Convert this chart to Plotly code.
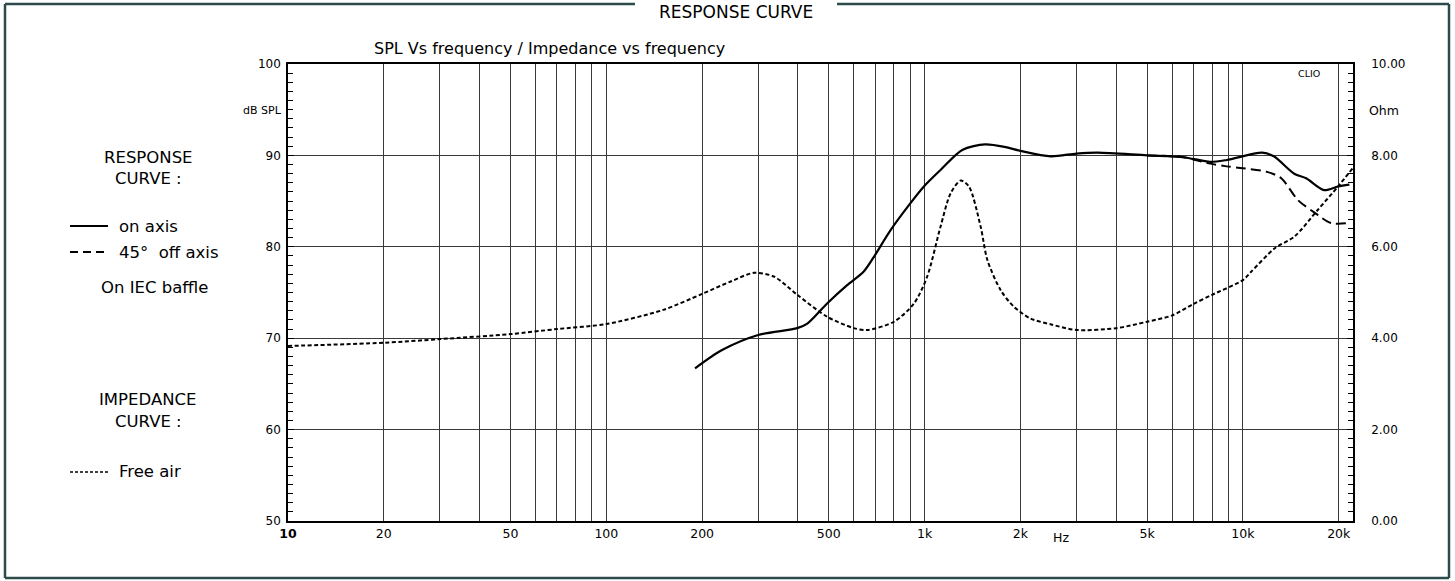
import plotly.graph_objects as go

# ---------------- data ----------------
spl_on_freq = [190, 231, 300, 398, 428, 494, 571, 644, 693, 781, 904, 995, 1122, 1313, 1550,
               1800, 2000, 2490, 3000, 3500, 5000, 6500, 7900, 8900, 11500, 12500, 14500,
               15800, 18000, 19900, 21600]
spl_on_db = [66.7, 68.7, 70.35, 71.1, 71.6, 73.8, 75.8, 77.3, 78.9, 81.8, 84.8, 86.6, 88.4, 90.6, 91.2,
             90.9, 90.5, 89.9, 90.2, 90.3, 90.0, 89.8, 89.3, 89.5, 90.3, 89.9, 88.0,
             87.5, 86.2, 86.6, 86.8]

spl_off_freq = [5000, 6500, 7900, 8900, 10000, 11900, 13200, 14900, 16700, 18900, 21600]
spl_off_db = [90.0, 89.8, 89.1, 88.8, 88.6, 88.2, 87.5, 85.1, 83.8, 82.6, 82.6]

imp_freq = [10, 20, 30, 50, 70, 100, 151, 200, 246, 291, 336, 398, 494, 600, 661, 801, 926,
            1019, 1122, 1207, 1298, 1378, 1500, 1575, 1734, 1907, 2153, 2500, 3000, 4000,
            5000, 6000, 7000, 8000, 10000, 10600, 12600, 14500, 17200, 19900, 22180]
imp_ohm = [3.83, 3.9, 3.98, 4.09, 4.2, 4.31, 4.62, 4.97, 5.24, 5.43, 5.35, 4.95, 4.47, 4.22, 4.18,
           4.36, 4.76, 5.35, 6.44, 7.17, 7.45, 7.32, 6.44, 5.71, 5.05, 4.69, 4.43, 4.3, 4.18,
           4.22, 4.36, 4.5, 4.75, 4.95, 5.27, 5.45, 5.97, 6.22, 6.81, 7.32, 7.73]

grid_freqs = [10, 20, 30, 40, 50, 60, 70, 80, 90, 100, 200, 300, 400, 500, 600, 700, 800, 900,
              1000, 2000, 3000, 4000, 5000, 6000, 7000, 8000, 9000, 10000, 20000]
labelled = {10: "<b>10</b>", 20: "20", 50: "50", 100: "100", 200: "200", 500: "500",
            1000: "1k", 2000: "2k", 5000: "5k", 10000: "10k", 20000: "20k"}
x_ticktext = [labelled.get(f, "") for f in grid_freqs]

spl_ticks = [50, 60, 70, 80, 90, 100]
ohm_ticks = [0, 2, 4, 6, 8, 10]
ohm_ticktext = ["%.2f" % v for v in ohm_ticks]

# ---------------- layout helpers ----------------
W, H = 1455, 581
L, R, T, B = 288, 1353, 64, 521


def px(x):
    return (x - L) / (R - L)


def py(y):
    return (B - y) / (B - T)


FONT = "DejaVu Sans, Liberation Sans, Arial, sans-serif"
fig = go.Figure()

fig.add_trace(go.Scatter(x=imp_freq, y=imp_ohm, yaxis="y2", mode="lines",
                         line=dict(color="black", width=2, dash="4px,2.5px", shape="spline", smoothing=0.8),
                         name="Free air", hoverinfo="x+y"))
fig.add_trace(go.Scatter(x=spl_off_freq, y=spl_off_db, mode="lines",
                         line=dict(color="black", width=2, dash="10px,5px", shape="spline", smoothing=0.8),
                         name="45° off axis"))
fig.add_trace(go.Scatter(x=spl_on_freq, y=spl_on_db, mode="lines",
                         line=dict(color="black", width=2.2, shape="spline", smoothing=0.8),
                         name="on axis"))

fig.update_layout(
    width=W, height=H,
    margin=dict(l=L, r=W - R, t=T, b=H - B, pad=0),
    paper_bgcolor="white", plot_bgcolor="white",
    showlegend=False,
    font=dict(family=FONT, size=12, color="black"),
    xaxis=dict(type="log", range=[1, 4.3459], tickvals=grid_freqs, ticktext=x_ticktext,
               showgrid=True, gridcolor="#3a3a3a", gridwidth=1, ticks="",
               showline=True, linecolor="black", linewidth=1.5, mirror=True,
               zeroline=False, tickfont=dict(size=12.5), fixedrange=True),
    yaxis=dict(range=[50, 100], tickvals=spl_ticks, showgrid=True, gridcolor="#3a3a3a",
               gridwidth=1, ticks="inside", ticklen=6, tickcolor="black",
               minor=dict(dtick=1, ticks="inside", ticklen=5, tickcolor="black", showgrid=False),
               showline=True, linecolor="black", linewidth=1.5, zeroline=False,
               tickfont=dict(size=12), ticklabelstandoff=3, fixedrange=True),
    yaxis2=dict(range=[0, 10], overlaying="y", side="right", tickvals=ohm_ticks,
                ticktext=ohm_ticktext, showgrid=False, ticks="inside", ticklen=6,
                tickcolor="black",
                minor=dict(dtick=0.2, ticks="inside", ticklen=5, tickcolor="black", showgrid=False),
                showline=True, linecolor="black", linewidth=1.5, zeroline=False,
                tickfont=dict(size=12), ticklabelstandoff=14, fixedrange=True),
)

# ---------------- outer frame ----------------
frame_col = "#2e4a4a"
fl, fr, ft, fb = px(5), px(1449), py(4), py(578)
gap_l, gap_r = px(635), px(837)
for x0, y0, x1, y1 in [(fl, ft, gap_l, ft), (gap_r, ft, fr, ft), (fl, ft, fl, fb),
                       (fr, ft, fr, fb), (fl, fb, fr, fb)]:
    fig.add_shape(type="line", xref="paper", yref="paper", x0=x0, y0=y0, x1=x1, y1=y1,
                  line=dict(color=frame_col, width=2.5), layer="above")

# ---------------- texts ----------------
def text(x, y, s, size=14, xanchor="center", yanchor="middle"):
    fig.add_annotation(xref="paper", yref="paper", x=px(x), y=py(y), text=s, showarrow=False,
                       xanchor=xanchor, yanchor=yanchor, font=dict(family=FONT, size=size, color="black"))


text(736, 0, "RESPONSE CURVE", size=17, yanchor="top")
text(372, 48, "SPL Vs frequency / Impedance vs frequency", size=16, xanchor="left")
text(1309, 73, "CLIO", size=9.5)
text(284, 110, "dB SPL", size=11, xanchor="right")
text(1367, 110, "Ohm", size=12.5, xanchor="left")
text(1061, 537, "Hz", size=12.5)

LS = 16.5
text(148, 157, "RESPONSE", size=LS)
text(148, 178, "CURVE :", size=LS)
text(117, 226, "on axis", size=LS, xanchor="left")
text(117, 252, "45°  off axis", size=LS, xanchor="left")
text(154, 287, "On IEC baffle", size=LS)
text(147, 399, "IMPEDANCE", size=LS)
text(148, 421, "CURVE :", size=LS)
text(117, 471, "Free air", size=LS, xanchor="left")

for yy, dash in [(226, "solid"), (252, "8px,5px"), (472, "3px,2px")]:
    fig.add_shape(type="line", xref="paper", yref="paper", x0=px(70), x1=px(108),
                  y0=py(yy), y1=py(yy), line=dict(color="black", width=2 if dash != "3px,2px" else 1.5, dash=dash))

fig.write_html("out.html", config={"displayModeBar": False},
               post_script="document.body.style.margin='0';document.body.style.overflow='hidden';")
